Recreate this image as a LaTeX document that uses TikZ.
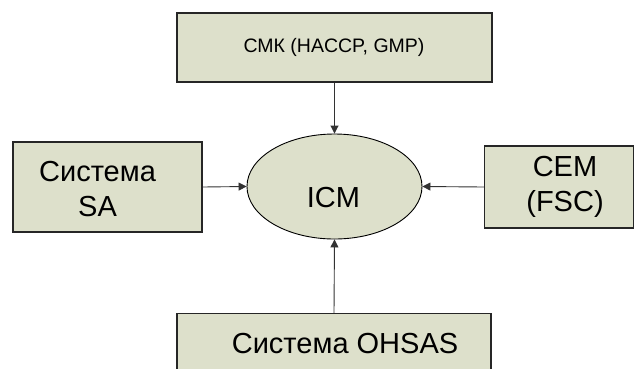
\documentclass[tikz,border=0pt]{standalone}
\usepackage{fontspec}
\setmainfont{Liberation Sans}
\usetikzlibrary{arrows.meta,shapes.geometric}
\definecolor{boxfill}{RGB}{221,224,203}
\tikzset{
  box/.style={draw=black!85, line width=1.1pt, fill=boxfill, inner sep=0pt},
  lbl/.style={font=\fontsize{29}{35}\selectfont, align=center, inner sep=0pt},
  conn/.style={draw=black!80, line width=0.9pt, -{Triangle[length=8pt,width=8pt]}}
}
\begin{document}
\begin{tikzpicture}[x=1pt,y=-1pt]
\useasboundingbox (0,0) rectangle (635,368);
\clip (0,0) rectangle (635,368);
\fill[white] (0,0) rectangle (635,368);
% boxes
\node[box, minimum width=315pt, minimum height=69pt] (top) at (334.5,47.5) {};
\node[box, minimum width=189pt, minimum height=90pt] (left) at (107.5,187) {};
\node[box, minimum width=149pt, minimum height=82pt] (right) at (559,187) {};
\node[box, minimum width=314pt, minimum height=70pt, anchor=north] (bottom) at (334,313) {};
\node[ellipse, draw=black, line width=0.9pt, fill=boxfill, minimum width=175pt, minimum height=105pt, inner sep=0pt] (icm) at (334.5,186.5) {};
% labels
\node[lbl, font=\fontsize{19.5}{24}\selectfont] (toplbl) at (334,47.5) {СМК (HACCP, GMP)};
\node[lbl] (leftlbl) at (97.5,189) {Система\\SA};
\node[lbl] (rightlbl) at (565,187) {CEM\\(FSC)};
\node[lbl, anchor=base] (bottomlbl) at (345,353) {Система OHSAS};
\node[lbl, anchor=base] (icmlbl) at (333.5,207) {ICM};
% connectors
\draw[conn] (top.south) -- (icm.north);
\draw[conn] (left.east) -- (icm.west);
\draw[conn] (right.west) -- (icm.east);
\draw[conn] (bottom.north) -- (icm.south);
\end{tikzpicture}
\end{document}
